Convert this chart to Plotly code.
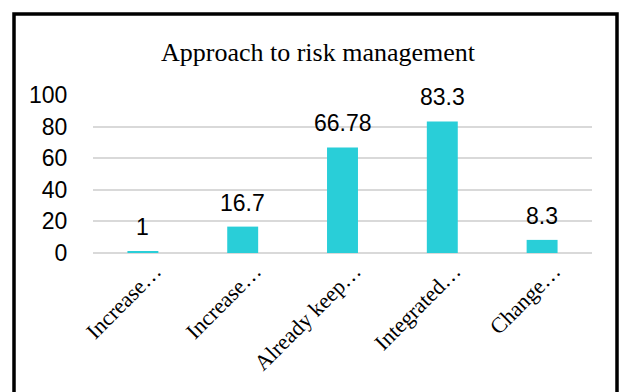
import plotly.graph_objects as go

# Chart data
categories = ["Increase…", "Increase…", "Already keep…", "Integrated…", "Change…"]
values = [1, 16.7, 66.78, 83.3, 8.3]
value_labels = ["1", "16.7", "66.78", "83.3", "8.3"]
y_ticks = [0, 20, 40, 60, 80, 100]

W, H = 624, 392
L, R, T, B = 93, 32, 95, 139
plot_w = W - L - R
plot_h = H - T - B

SANS = "Liberation Sans, Arial, sans-serif"
SERIF = "Liberation Serif, Times New Roman, serif"

positions = list(range(len(categories)))

fig = go.Figure()
fig.add_trace(go.Bar(
    x=positions,
    y=values,
    width=0.31,
    marker=dict(color="#29CED8", line=dict(width=0)),
    hoverinfo="skip",
))

# value labels above each bar
for xp, v, lab in zip(positions, values, value_labels):
    fig.add_annotation(
        x=xp, y=v, text=lab, showarrow=False,
        xref="x", yref="y", yanchor="bottom", yshift=9,
        font=dict(family=SANS, size=23, color="#000000"),
    )

# outer frame
def px_to_paper_x(px):
    return (px - L) / plot_w

def px_to_paper_y(py):
    return (H - B - py) / plot_h

fig.add_shape(
    type="rect", xref="paper", yref="paper",
    x0=px_to_paper_x(14), x1=px_to_paper_x(617),
    y0=px_to_paper_y(410), y1=px_to_paper_y(14),
    line=dict(color="#000000", width=3.5), fillcolor="rgba(0,0,0,0)",
    layer="above",
)

fig.update_layout(
    width=W, height=H,
    margin=dict(l=L, r=R, t=T, b=B, pad=0, autoexpand=False),
    paper_bgcolor="#FFFFFF",
    plot_bgcolor="#FFFFFF",
    showlegend=False,
    title=dict(
        text="Approach to risk management",
        x=318 / W, xanchor="center", xref="container",
        y=1 - 52 / H, yanchor="middle", yref="container",
        font=dict(family=SERIF, size=26, color="#000000"),
    ),
    xaxis=dict(
        range=[-0.5, len(categories) - 0.5],
        tickmode="array", tickvals=positions, ticktext=categories,
        tickangle=-45,
        tickfont=dict(family=SERIF, size=22, color="#000000"),
        ticklabelstandoff=0, ticklabelshift=12,
        showgrid=False, zeroline=False, showline=False, ticks="",
        automargin=False,
        fixedrange=True,
    ),
    yaxis=dict(
        range=[0, 100],
        tickmode="array", tickvals=y_ticks,
        tickfont=dict(family=SANS, size=23, color="#000000"),
        showgrid=True, gridcolor="#D9D9D9", gridwidth=1.5,
        zeroline=True, zerolinecolor="#D9D9D9", zerolinewidth=1.5,
        showline=False, ticks="outside", ticklen=20, tickcolor="rgba(0,0,0,0)",
        automargin=False,
        fixedrange=True,
    ),
)

fig.write_html("out.html")
